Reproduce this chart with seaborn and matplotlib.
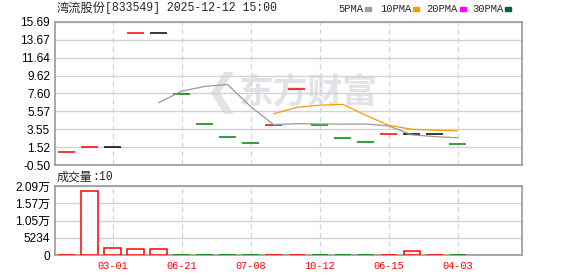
import numpy as np
import pandas as pd
import matplotlib
matplotlib.use("Agg")
import matplotlib.pyplot as plt
import seaborn as sns

# ---------------- data ----------------
prices = [0.92, 1.50, 1.50, 14.40, 14.40, 7.50, 4.14, 2.64, 1.99, 4.06,
          8.07, 4.00, 2.52, 2.07, 3.01, 3.00, 3.00, 1.84]
candle_dir = ["up", "up", "flat", "up", "flat", "down", "down", "down", "down",
              "up", "up", "down", "down", "down", "up", "flat", "flat", "down"]
volumes = [30, 19400, 2030, 1730, 1730, 20, 10, 10, 10, 20, 20, 10, 10, 10,
           20, 1210, 20, 10]
vol_dir = ["up", "up", "up", "up", "up", "down", "down", "down", "down",
           "up", "up", "down", "down", "down", "up", "up", "up", "down"]
ma5_start = 4
ma5 = [6.54, 7.86, 8.39, 8.62, 6.13, 4.07, 4.18, 4.15, 4.13, 4.14, 3.93,
       2.92, 2.72, 2.58]
ma10_start = 9
ma10 = [5.30, 6.02, 6.27, 6.37, 5.14, 4.00, 3.55, 3.44, 3.36]
date_ticks = [2, 5, 8, 11, 14, 17]
date_labels = ["03-01", "06-21", "07-08", "10-12", "06-15", "04-03"]
price_ticks = [15.69, 13.67, 11.64, 9.62, 7.60, 5.57, 3.55, 1.52, -0.50]
vol_ticks = [0, 5234, 10468, 15702, 20936]
vol_labels = ["0", "5234", "1.05万", "1.57万", "2.09万"]
title_cn = "湾流股份"
title_rest = "[833549] 2025-12-12 15:00"
vol_title_cn = "成交量"
vol_title_rest = ":10"
legend_names = ["5PMA", "10PMA", "20PMA", "30PMA"]
legend_colors = ["#a0a0a0", "#f0a000", "#ff00ff", "#006633"]

sns.set_style("white")
plt.rcParams["font.family"] = ["Liberation Sans", "Noto Sans CJK SC", "DejaVu Sans"]

RED = "#ff0000"
GREEN = "#008000"
GRID = "#d3d3d3"
FRAME = "#999999"
dir_color = {"up": RED, "down": GREEN, "flat": "#000000"}

W, H = 578, 276
fig = plt.figure(figsize=(W / 100, H / 100), dpi=100)

def fx(x):
    return x / W

def fy(y):
    return 1 - y / H

ax = fig.add_axes([fx(55), fy(165), fx(522 - 55), (165 - 22) / H])
axv = fig.add_axes([fx(55), fy(255), fx(522 - 55), (255 - 186) / H])

idx = np.arange(len(prices))
xlim = (-0.5, 19.8)

# ---------------- price panel ----------------
ax.text(10.5, 7.8, "东方财富", fontsize=25, fontweight="bold", style="italic",
        color="#e2e2e8", ha="center", va="center",
        family=["Noto Sans CJK SC"], zorder=0)
ax.text(6.75, 7.6, "❮", fontsize=30, color="#e2e2e8", ha="center", va="center",
        family=["DejaVu Sans"], zorder=0)

cols = [dir_color[d] for d in candle_dir]
ax.hlines(prices, idx - 0.37, idx + 0.37, colors=cols, lw=1.1, zorder=3)

df5 = pd.DataFrame({"x": np.arange(ma5_start, ma5_start + len(ma5)), "y": ma5})
df10 = pd.DataFrame({"x": np.arange(ma10_start, ma10_start + len(ma10)), "y": ma10})
sns.lineplot(data=df5, x="x", y="y", ax=ax, color="#999999", lw=0.9, zorder=4)
sns.lineplot(data=df10, x="x", y="y", ax=ax, color="#f0a000", lw=0.9, zorder=4)

ax.set_xlim(*xlim)
ax.set_ylim(-0.50, 15.69)
ax.set_yticks(price_ticks)
ax.set_yticklabels([f"{t:.2f}" for t in price_ticks])
ax.set_xticks(date_ticks)
ax.set_xticklabels([])
ax.set_xlabel("")
ax.set_ylabel("")

# ---------------- volume panel ----------------
for i, (v, d) in enumerate(zip(volumes, vol_dir)):
    if d == "up":
        axv.bar(i, v, width=0.70, facecolor="white", edgecolor=RED, lw=1.1, zorder=3)
    else:
        axv.bar(i, v, width=0.70, facecolor=GREEN, edgecolor=GREEN, lw=1.1, zorder=3)

axv.set_xlim(*xlim)
axv.set_ylim(0, 20936)
axv.set_yticks(vol_ticks)
axv.set_yticklabels(vol_labels)
axv.set_xticks(date_ticks)
axv.set_xticklabels(date_labels, color=RED, family=["Liberation Mono"], fontsize=7.4)

for a in (ax, axv):
    a.grid(True, axis="y", color=GRID, lw=1.0, zorder=1)
    a.grid(True, axis="x", color=GRID, lw=0.9, linestyle=(0, (4, 3)), zorder=1)
    a.set_axisbelow(True)
    for s in a.spines.values():
        s.set_color(FRAME)
        s.set_linewidth(1.2)
    a.tick_params(axis="y", length=2, width=0.8, color=FRAME, pad=1.5,
                  labelsize=8.6, labelcolor="#000000")
    a.tick_params(axis="x", length=0, pad=4)

# ---------------- texts ----------------
fig.text(fx(57), fy(8.5), title_cn, fontsize=8.8, family=["Noto Sans CJK SC"],
         ha="left", va="center")
fig.text(fx(105), fy(8.5), title_rest, fontsize=8.3, family=["Liberation Mono"],
         ha="left", va="center")
fig.text(fx(57), fy(177.5), vol_title_cn, fontsize=8.6, family=["Noto Sans CJK SC"],
         ha="left", va="center")
fig.text(fx(92), fy(177.5), vol_title_rest, fontsize=8.3, family=["Liberation Mono"],
         ha="left", va="center")

leg_x = [338, 380, 426, 472]
sq_x = [365, 413, 460, 505]
for name, c, lx, sx in zip(legend_names, legend_colors, leg_x, sq_x):
    fig.text(fx(lx), fy(9), name, fontsize=7.6, family=["Liberation Mono"],
             ha="left", va="center")
    fig.patches.append(plt.Rectangle((fx(sx), fy(10.5)), fx(6), 3 / H,
                                     transform=fig.transFigure, color=c,
                                     figure=fig))

fig.savefig("out.png", dpi=100)
